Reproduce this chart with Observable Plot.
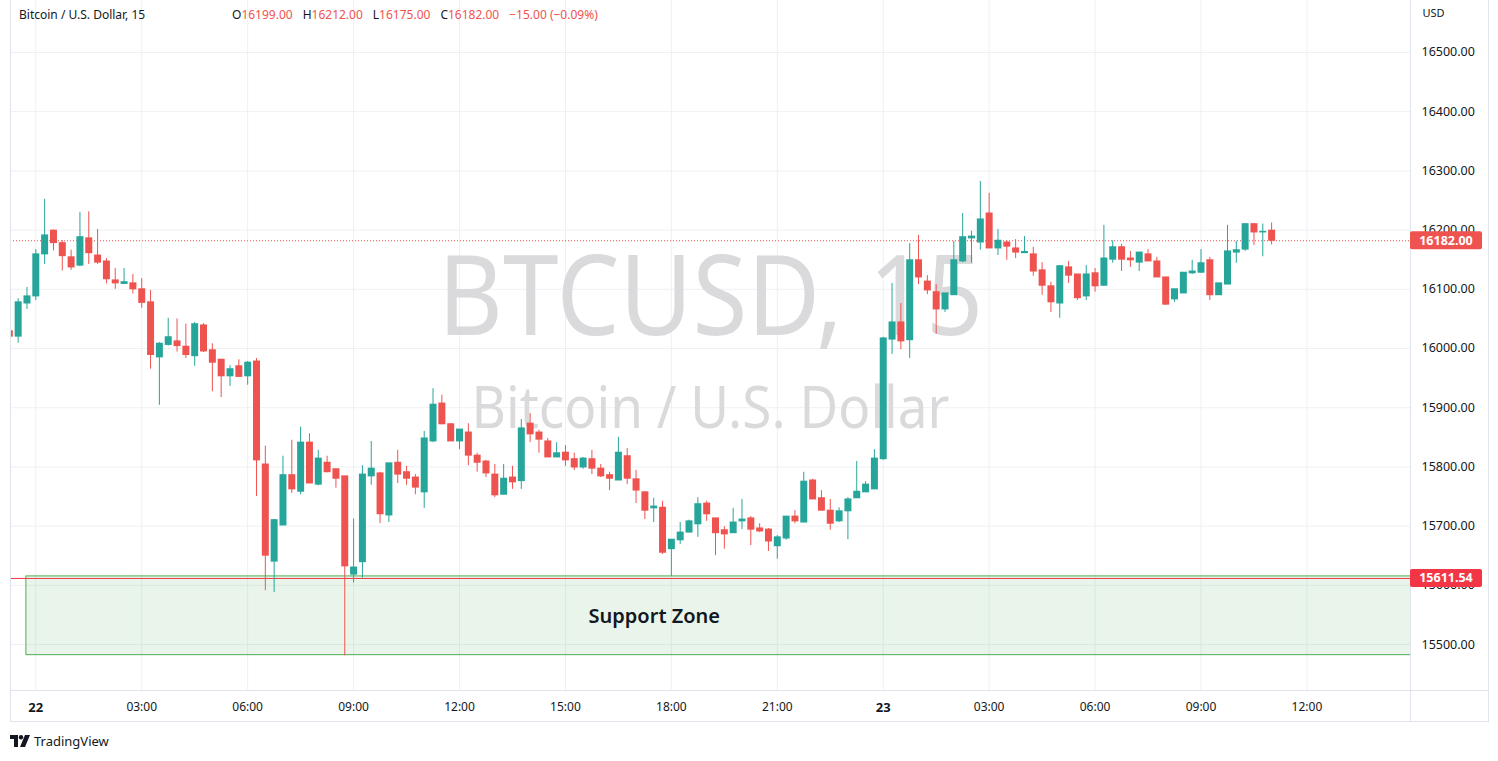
<!DOCTYPE html>
<html><head><meta charset="utf-8">
<script src="https://cdn.jsdelivr.net/npm/d3@7"></script>
<script src="https://cdn.jsdelivr.net/npm/@observablehq/plot@0.6"></script>
<style>
html,body{margin:0;padding:0;background:#fff;}
body{width:1498px;height:761px;position:relative;overflow:hidden;font-family:"Noto Sans",sans-serif;color:#131722;}
#chart{position:absolute;left:0;top:0;}
#header{position:absolute;top:7px;left:19px;font-size:12px;line-height:16px;white-space:nowrap;}
#ohlc{position:absolute;top:7px;left:232px;font-size:12px;line-height:16px;white-space:nowrap;}
#ohlc .v{color:#ef5350;margin-right:10px}
#footer{position:absolute;left:10px;top:733px;font-size:13px;line-height:16px;display:flex;align-items:center;gap:4px;}
</style></head><body>
<div id="chart"></div>
<div id="header">Bitcoin / U.S. Dollar, 15</div>
<div id="ohlc"></div>
<div id="footer"><svg width="20" height="12" viewBox="0 0 20 12"><path d="M0 0h8v12h-4v-8H0z" fill="#131722"/><circle cx="11" cy="2.2" r="2.2" fill="#131722"/><path d="M15 0h5l-5 12h-5z" fill="#131722"/></svg><span>TradingView</span></div>
<script>
// ---- data (15-minute candles, BTC/USD, from 21 Nov 23:15 UTC) ----
const startTime = Date.UTC(2022, 10, 21, 23, 15);
const stepMinutes = 15;
const opens = [
16029,16020,16076,
16088,16159,16199,16178,16154,16140,16186,16157,16147,16115,
16109,16110,16100,16078,15985,16006,16012,16003,15987,16039,
15997,15981,15953,15970,15953,15978,15804,15640,15701,15786,
15758,15841,15770,15807,15796,15784,15618,15639,15784,15789,
15718,15807,15791,15782,15757,15843,15907,15872,15843,15858,
15819,15809,15787,15753,15782,15776,15873,15858,15843,15816,
15824,15813,15799,15813,15797,15786,15777,15818,15779,15757,
15730,15731,15661,15676,15689,15703,15738,15713,15693,15688,
15708,15713,15696,15694,15666,15679,15716,15706,15777,15747,
15726,15708,15725,15747,15757,15762,15813,16015,16044,16014,
16149,16113,16095,16066,16090,16147,16186,16179,16228,16169,
16179,16169,16161,16159,16132,16105,16076,16137,16125,16088,
16127,16106,16150,16171,16152,16145,16159,16147,16120,16083,
16093,16127,16128,16149,16090,16108,16162,16167,16210,16196,
16199];
const highs = [
16032,16084,16103,
16167,16252,16200,16182,16166,16230,16231,16201,16152,16135,
16135,16125,16118,16098,16010,16051,16050,16041,16044,16042,
16008,15981,15971,15981,15978,15983,15835,15711,15818,15845,
15867,15856,15828,15818,15796,15784,15712,15802,15843,15791,
15806,15828,15801,15787,15860,15932,15921,15873,15863,15873,
15823,15811,15804,15804,15801,15880,15890,15862,15848,15841,
15836,15823,15816,15828,15804,15791,15850,15831,15794,15758,
15747,15742,15677,15706,15710,15748,15742,15713,15699,15730,
15745,15716,15704,15696,15684,15716,15726,15791,15779,15760,
15745,15731,15748,15809,15775,15829,16019,16110,16076,16177,
16191,16123,16108,16093,16181,16228,16198,16282,16262,16201,
16182,16184,16189,16171,16145,16112,16140,16147,16125,16140,
16135,16208,16182,16176,16164,16162,16167,16154,16120,16100,
16128,16149,16167,16154,16110,16208,16181,16210,16211,16210,
16212];
const lows = [
16012,16009,16066,
16081,16142,16165,16131,16132,16138,16142,16142,16109,16100,
16108,16092,16068,15965,15904,16004,15994,15983,15970,15993,
15927,15917,15936,15951,15938,15750,15591,15588,15701,15755,
15753,15772,15768,15790,15764,15481,15604,15612,15769,15704,
15706,15772,15769,15753,15730,15841,15871,15843,15829,15802,
15791,15782,15748,15753,15762,15762,15841,15823,15816,15816,
15801,15794,15796,15787,15782,15760,15777,15770,15738,15711,
15706,15652,15615,15669,15689,15681,15708,15650,15661,15688,
15694,15667,15689,15657,15644,15676,15704,15706,15745,15726,
15693,15706,15677,15747,15757,15762,15811,15990,15998,15983,
16108,16091,16024,16061,16090,16145,16144,16166,16169,16157,
16149,16152,16161,16122,16090,16061,16051,16110,16081,16081,
16095,16105,16144,16130,16137,16130,16147,16120,16073,16078,
16093,16125,16127,16081,16090,16108,16144,16164,16174,16155,
16175];
const closes = [
16020,16078,16088,
16159,16191,16178,16156,16137,16188,16161,16145,16117,16110,
16112,16100,16077,15989,16008,16019,16004,15989,16041,15995,
15976,15953,15965,15952,15976,15811,15650,15710,15786,15762,
15841,15772,15814,15791,15780,15632,15630,15787,15797,15720,
15806,15787,15780,15765,15848,15905,15872,15843,15863,15819,
15807,15789,15752,15780,15774,15865,15855,15846,15816,15823,
15811,15799,15814,15797,15784,15780,15824,15780,15760,15726,
15733,15655,15677,15689,15708,15737,15720,15688,15686,15706,
15711,15694,15691,15674,15681,15716,15708,15775,15745,15726,
15704,15725,15745,15758,15770,15814,16017,16044,16012,16149,
16120,16098,16066,16093,16149,16188,16189,16218,16169,16182,
16172,16162,16163,16130,16106,16078,16139,16123,16085,16125,
16105,16152,16171,16150,16149,16162,16147,16120,16074,16100,
16128,16130,16144,16090,16110,16164,16166,16210,16196,16197,
16182];

// axis ticks
const xTickTimes = ["2022-11-22T00:00Z","2022-11-22T03:00Z","2022-11-22T06:00Z","2022-11-22T09:00Z","2022-11-22T12:00Z","2022-11-22T15:00Z","2022-11-22T18:00Z","2022-11-22T21:00Z","2022-11-23T00:00Z","2022-11-23T03:00Z","2022-11-23T06:00Z","2022-11-23T09:00Z","2022-11-23T12:00Z"];
const xTickLabels = ["22","03:00","06:00","09:00","12:00","15:00","18:00","21:00","23","03:00","06:00","09:00","12:00"];
const yTicks = [15500,15600,15700,15800,15900,16000,16100,16200,16300,16400,16500];

// visible window
const xDomain = ["2022-11-21T23:17:00Z","2022-11-23T14:56:00Z"];
const yDomain = [15422.3, 16587.8];

// support zone drawing
const zoneStart = "2022-11-21T23:44Z";
const zoneEnd = "2022-11-23T16:00Z";
const zoneTop = 15615;
const zoneBottom = 15482;
const supportLevel = 15611.54;
const zoneLabel = "Support Zone";
const zoneLabelTime = "2022-11-22T17:31Z";
const zoneLabelPrice = 15547;

const symbolTitle = "Bitcoin / U.S. Dollar, 15";
const watermark1 = "BTCUSD, 15";
const watermark2 = "Bitcoin / U.S. Dollar";

// ---- build ----
const UP = "#26a69a", DOWN = "#ef5350";
const candles = opens.map((o, i) => ({
  t: new Date(startTime + i * stepMinutes * 60000),
  o, h: highs[i], l: lows[i], c: closes[i],
  top: Math.max(o, closes[i]), bot: Math.min(o, closes[i]),
  up: closes[i] >= o
}));
const upC = candles.filter(d => d.up), dnC = candles.filter(d => !d.up);
const last = candles[candles.length - 1], prev = candles[candles.length - 2];

const tickDates = xTickTimes.map(s => new Date(s));
const labelMap = new Map(tickDates.map((d, i) => [+d, xTickLabels[i]]));
const dayTicks = tickDates.filter(d => !labelMap.get(+d).includes(":"));
const hourTicks = tickDates.filter(d => labelMap.get(+d).includes(":"));

const zone = [{x1: new Date(zoneStart), x2: new Date(zoneEnd), y1: zoneBottom, y2: zoneTop}];
const GRID = "#eef0f4";

const plot = Plot.plot({
  width: 1498, height: 722,
  marginLeft: 10, marginRight: 88, marginTop: 0, marginBottom: 32,
  x: {type: "utc", domain: xDomain.map(s => new Date(s))},
  y: {domain: yDomain},
  style: {fontFamily: "Noto Sans", fontSize: "12px", color: "#131722", background: "#fff", overflow: "visible"},
  marks: [
    Plot.gridX(tickDates, {stroke: GRID, strokeOpacity: 1}),
    Plot.gridY(yTicks, {stroke: GRID, strokeOpacity: 1}),
    Plot.text([watermark1], {frameAnchor: "top", lineAnchor: "middle", dy: 299, text: d => d, fontSize: 112, fill: "#dadadc"}),
    Plot.text([watermark2], {frameAnchor: "top", lineAnchor: "middle", dy: 409, text: d => d, fontSize: 58, fill: "#dadadc"}),
    Plot.rect(zone, {x1: "x1", x2: "x2", y1: "y1", y2: "y2", fill: "#4caf50", fillOpacity: 0.12, stroke: "#4caf50", strokeWidth: 1, clip: true}),
    Plot.ruleY([supportLevel], {stroke: "#f23645", strokeWidth: 1}),
    Plot.ruleY([last.c], {stroke: "#ef5350", strokeDasharray: "1,2", strokeWidth: 1}),
    Plot.ruleX(upC, {x: "t", y1: "l", y2: "h", stroke: UP, strokeWidth: 1, clip: true}),
    Plot.ruleX(dnC, {x: "t", y1: "l", y2: "h", stroke: DOWN, strokeWidth: 1, clip: true}),
    Plot.ruleX(upC, {x: "t", y1: "top", y2: "bot", stroke: UP, strokeWidth: 7, insetTop: -0.5, insetBottom: -0.5, clip: true}),
    Plot.ruleX(dnC, {x: "t", y1: "top", y2: "bot", stroke: DOWN, strokeWidth: 7, insetTop: -0.5, insetBottom: -0.5, clip: true}),
    Plot.text([zoneLabel], {x: () => new Date(zoneLabelTime), y: () => zoneLabelPrice, text: d => d, fontSize: 20, fontWeight: 600, fill: "#131722"}),
    Plot.axisX(hourTicks, {tickSize: 0, tickPadding: 12, tickFormat: d => labelMap.get(+d), fontSize: 12}),
    Plot.axisX(dayTicks, {tickSize: 0, tickPadding: 12, tickFormat: d => labelMap.get(+d), fontSize: 13, fontWeight: "bold"}),
    Plot.axisY(yTicks, {anchor: "right", tickSize: 0, tickPadding: 11, tickFormat: d => d.toFixed(2), fontSize: 12.5}),
    Plot.text(["USD"], {frameAnchor: "top-right", lineAnchor: "middle", dx: 12, dy: 13, text: d => d, textAnchor: "start", fontSize: 11})
  ]
});

const svg = d3.select(plot);
// watermark widths
svg.selectAll("text").filter(function(){ return this.textContent === watermark1; })
  .attr("textLength", 545).attr("lengthAdjust", "spacingAndGlyphs");
svg.selectAll("text").filter(function(){ return this.textContent === watermark2; })
  .attr("textLength", 478).attr("lengthAdjust", "spacingAndGlyphs");

// frame lines
const B = "#e0e3eb";
const fr = svg.append("g").attr("stroke", B).attr("stroke-width", 1);
fr.append("line").attr("x1", 10.5).attr("x2", 10.5).attr("y1", 0).attr("y2", 722);
fr.append("line").attr("x1", 1410.5).attr("x2", 1410.5).attr("y1", 0).attr("y2", 722);
fr.append("line").attr("x1", 1488.5).attr("x2", 1488.5).attr("y1", 0).attr("y2", 722);
fr.append("line").attr("x1", 10).attr("x2", 1489).attr("y1", 690.5).attr("y2", 690.5);
fr.append("line").attr("x1", 10).attr("x2", 1489).attr("y1", 721.5).attr("y2", 721.5);

// price labels on the scale
const ys = plot.scale("y");
function priceBox(v, fill) {
  const y = ys.apply(v);
  const g = svg.append("g");
  g.append("rect").attr("x", 1410).attr("y", y - 9).attr("width", 72).attr("height", 18).attr("rx", 2).attr("fill", fill);
  g.append("text").attr("x", 1446).attr("y", y).attr("dy", "0.35em").attr("text-anchor", "middle")
    .attr("fill", "#fff").attr("font-weight", "bold").attr("font-size", 12.5).attr("font-family", "Noto Sans").text(v.toFixed(2));
}
priceBox(last.c, "#ef5350");
priceBox(supportLevel, "#f23645");

document.getElementById("chart").appendChild(plot);

// header OHLC
const chg = last.c - prev.c;
const pct = chg / prev.c * 100;
const fmt = v => v.toFixed(2);
const sgn = v => (v < 0 ? "\u2212" : "+") + Math.abs(v).toFixed(2);
document.getElementById("ohlc").innerHTML =
  `O<span class="v">${fmt(last.o)}</span>H<span class="v">${fmt(last.h)}</span>L<span class="v">${fmt(last.l)}</span>C<span class="v">${fmt(last.c)}</span><span class="v">${sgn(chg)} (${sgn(pct)}%)</span>`;
document.getElementById("header").textContent = symbolTitle;
</script>
</body></html>
